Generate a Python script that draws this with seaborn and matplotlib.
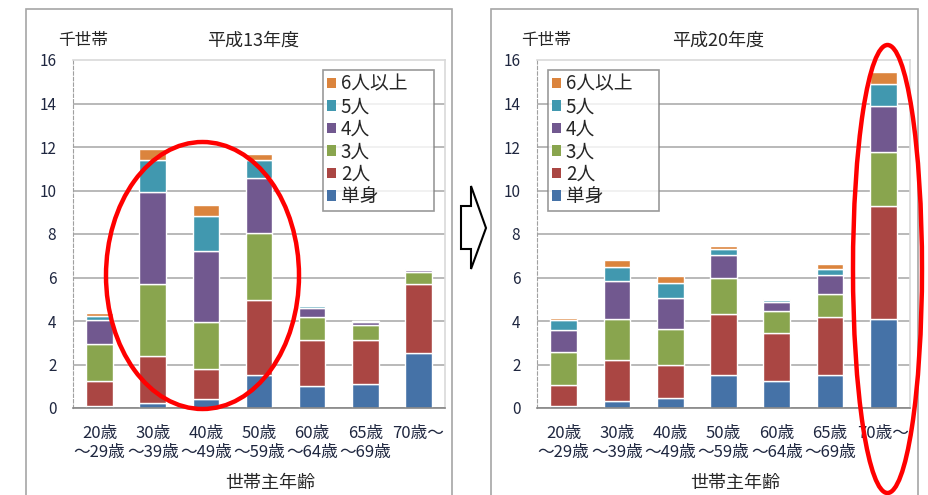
import numpy as np
import pandas as pd
import matplotlib
matplotlib.use("Agg")
import matplotlib.pyplot as plt
import seaborn as sns
from matplotlib.patches import Patch, Ellipse, Polygon, Rectangle

# ---------------- data ----------------
age_keys = ["20-29", "30-39", "40-49", "50-59", "60-64", "65-69", "70-"]
age_labels = ["20歳\n～29歳", "30歳\n～39歳", "40歳\n～49歳", "50歳\n～59歳",
              "60歳\n～64歳", "65歳\n～69歳", "70歳～"]
sizes = ["単身", "2人", "3人", "4人", "5人", "6人以上"]

# 平成13年度 (thousand households)
h13_single = [0.10, 0.24, 0.40, 1.53, 1.02, 1.10, 2.55]
h13_two    = [1.12, 2.17, 1.40, 3.42, 2.11, 2.03, 3.16]
h13_three  = [1.74, 3.30, 2.17, 3.10, 1.04, 0.69, 0.53]
h13_four   = [1.07, 4.24, 3.25, 2.53, 0.41, 0.13, 0.11]
h13_five   = [0.20, 1.47, 1.60, 0.84, 0.11, 0.03, 0.03]
h13_six    = [0.14, 0.48, 0.53, 0.28, 0.03, 0.01, 0.02]

# 平成20年度 (thousand households)
h20_single = [0.10, 0.30, 0.46, 1.51, 1.24, 1.51, 4.09]
h20_two    = [0.98, 1.91, 1.54, 2.80, 2.23, 2.66, 5.22]
h20_three  = [1.48, 1.88, 1.62, 1.67, 0.97, 1.05, 2.46]
h20_four   = [1.04, 1.73, 1.45, 1.04, 0.42, 0.90, 2.12]
h20_five   = [0.43, 0.65, 0.66, 0.29, 0.10, 0.29, 0.99]
h20_six    = [0.12, 0.33, 0.32, 0.13, 0.04, 0.19, 0.55]

colors = ["#4572A7", "#AA4643", "#89A54E", "#71588F", "#4198AF", "#DB843D"]
pal = dict(zip(sizes, colors))

# ---------------- style ----------------
sns.set_style("white")
plt.rcParams['font.family'] = ['Noto Sans CJK JP', 'DejaVu Sans']

W, H = 929, 495
fig = plt.figure(figsize=(W / 100, H / 100), dpi=100)


def fx(x):
    return x / W


def fy(y):
    return 1 - y / H


def draw(box, series, title, title_x, unit_x, leg_box):
    x0, y0, x1, y1 = box
    ax = fig.add_axes([fx(x0), fy(y1), (x1 - x0) / W, (y1 - y0) / H])
    rows = []
    for s, vals in zip(sizes, series):
        for a, v in zip(age_keys, vals):
            rows.append({"age": a, "size": s, "v": v})
    df = pd.DataFrame(rows)
    sns.histplot(data=df, x="age", weights="v", hue="size",
                 hue_order=sizes[::-1], multiple="stack", discrete=True,
                 shrink=0.5, palette=pal, alpha=1, edgecolor="white",
                 linewidth=1.0, legend=False, ax=ax)
    ax.set_xlim(-0.5, 6.5)
    ax.set_ylim(0, 16)
    ax.set_yticks(range(0, 17, 2))
    ax.set_xticks(range(7))
    ax.set_xticklabels(age_labels)
    ax.set_xticks(np.arange(-0.5, 7, 1), minor=True)
    ax.set_ylabel("")
    ax.set_axisbelow(True)
    ax.yaxis.grid(True, color="#a6a6a6", lw=1.1)
    ax.get_ygridlines()[-1].set_visible(False)
    ax.xaxis.grid(False)
    ax.spines["left"].set_color("#a0a0a0")
    ax.spines["left"].set_linestyle((0, (3, 2)))
    ax.spines["bottom"].set_color("#868686")
    ax.spines["bottom"].set_linewidth(1.2)
    for s in ("top", "right"):
        ax.spines[s].set_color("#d9d9d9")
        ax.spines[s].set_linewidth(1.2)
    ax.tick_params(axis="y", labelsize=11, pad=12, length=0, labelcolor="#1f2740")
    ax.tick_params(axis="x", which="major", labelsize=12, pad=12, length=0,
                   labelcolor="#1f2740")
    ax.tick_params(axis="x", which="minor", length=5, color="#868686",
                   direction="out", width=1)
    ax.set_xlabel("世帯主年齢", fontsize=13)
    ax.xaxis.set_label_coords(0.53, -0.19)

    handles = [Patch(facecolor=pal[s], edgecolor="none") for s in sizes[::-1]]
    lx0, ly0, lx1, ly1 = leg_box
    bb = ((lx0 - x0) / (x1 - x0), (y1 - ly1) / (y1 - y0),
          (lx1 - lx0) / (x1 - x0), (ly1 - ly0) / (y1 - y0))
    leg = ax.legend(handles, sizes[::-1], loc="upper left", bbox_to_anchor=bb,
                    mode="expand", fontsize=13.5, frameon=True, fancybox=False,
                    edgecolor="#808080", handlelength=0.5, handleheight=0.5,
                    handletextpad=0.25, labelspacing=0.08, borderpad=0.2,
                    borderaxespad=0)
    leg.get_frame().set_linewidth(1.2)

    fig.text(fx(title_x), fy(41), title, ha="center", va="center", fontsize=13)
    fig.text(fx(unit_x), fy(41), "千世帯", ha="center", va="center", fontsize=12)
    return ax


h13 = [h13_single, h13_two, h13_three, h13_four, h13_five, h13_six]
h20 = [h20_single, h20_two, h20_three, h20_four, h20_five, h20_six]

draw((73, 60, 445, 408), h13, "平成13年度", 253, 83, (323, 70, 434, 203))
draw((537, 60, 910, 408), h20, "平成20年度", 718, 546, (548, 70, 659, 208))

# panel borders
for (a, b) in [(26, 452), (491, 918)]:
    fig.add_artist(Rectangle((fx(a), fy(505)), (b - a) / W, (505 - 9) / H,
                             transform=fig.transFigure, fill=False,
                             edgecolor="#a6a6a6", lw=1.2, zorder=0))

# hollow arrow between panels
pts = [(461, 206), (471, 206), (471, 186), (486, 228), (471, 269), (471, 249), (461, 249)]
fig.add_artist(Polygon([(fx(x), fy(y)) for x, y in pts], closed=True,
                       transform=fig.transFigure, facecolor="white",
                       edgecolor="black", lw=1.5, zorder=5))

# red highlight ellipses
for cx, cy, w, h in [(202.5, 275.5, 193, 267), (887.5, 269, 69, 448)]:
    fig.add_artist(Ellipse((fx(cx), fy(cy)), w / W, h / H,
                           transform=fig.transFigure, fill=False,
                           edgecolor="#ff0000", lw=3.2, zorder=10))

fig.savefig("out.png", dpi=100)
